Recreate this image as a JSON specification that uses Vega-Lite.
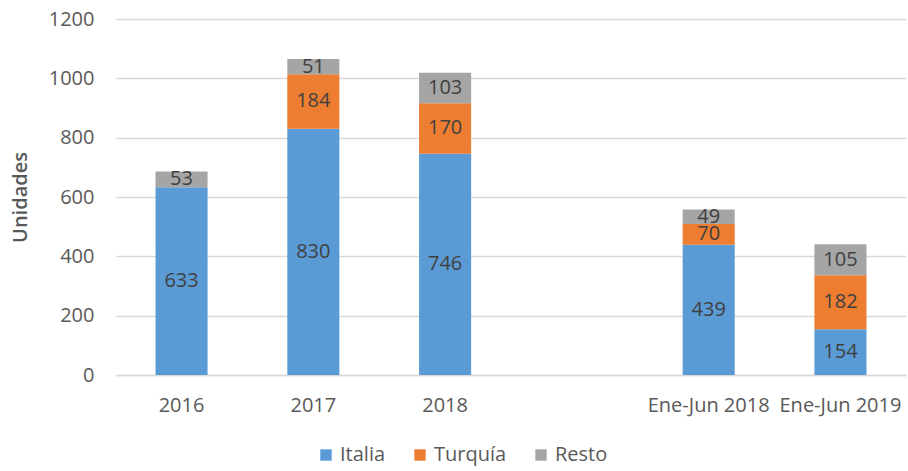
{
  "$schema": "https://vega.github.io/schema/vega-lite/v6.json",
  "width": 790,
  "height": 356,
  "autosize": {"type": "none"},
  "padding": {"left": 116, "top": 19, "right": 2, "bottom": 96},
  "background": "white",
  "config": {
    "font": "Open Sans",
    "view": {"stroke": null},
    "axis": {"labelColor": "#595959", "titleColor": "#595959", "labelFont": "Open Sans", "titleFont": "Open Sans"}
  },
  "data": {
    "values": [
      {"periodo": "2016", "serie": "Italia", "orden": 1, "valor": 633},
      {"periodo": "2016", "serie": "Turquía", "orden": 2, "valor": 0},
      {"periodo": "2016", "serie": "Resto", "orden": 3, "valor": 53},
      {"periodo": "2017", "serie": "Italia", "orden": 1, "valor": 830},
      {"periodo": "2017", "serie": "Turquía", "orden": 2, "valor": 184},
      {"periodo": "2017", "serie": "Resto", "orden": 3, "valor": 51},
      {"periodo": "2018", "serie": "Italia", "orden": 1, "valor": 746},
      {"periodo": "2018", "serie": "Turquía", "orden": 2, "valor": 170},
      {"periodo": "2018", "serie": "Resto", "orden": 3, "valor": 103},
      {"periodo": "Ene-Jun 2018", "serie": "Italia", "orden": 1, "valor": 439},
      {"periodo": "Ene-Jun 2018", "serie": "Turquía", "orden": 2, "valor": 70},
      {"periodo": "Ene-Jun 2018", "serie": "Resto", "orden": 3, "valor": 49},
      {"periodo": "Ene-Jun 2019", "serie": "Italia", "orden": 1, "valor": 154},
      {"periodo": "Ene-Jun 2019", "serie": "Turquía", "orden": 2, "valor": 182},
      {"periodo": "Ene-Jun 2019", "serie": "Resto", "orden": 3, "valor": 105}
    ]
  },
  "transform": [
    {"stack": "valor", "groupby": ["periodo"], "sort": [{"field": "orden", "order": "ascending"}], "as": ["v0", "v1"]},
    {"calculate": "(datum.v0 + datum.v1) / 2", "as": "vmid"}
  ],
  "encoding": {
    "x": {
      "field": "periodo",
      "type": "ordinal",
      "scale": {"domain": ["2016", "2017", "2018", " ", "Ene-Jun 2018", "Ene-Jun 2019"], "paddingInner": 0.605, "paddingOuter": 0.3},
      "axis": {"title": null, "labelAngle": 0, "labelFontSize": 20, "ticks": false, "domainColor": "#D9D9D9", "domainWidth": 1.5, "labelPadding": 20, "labelOverlap": false}
    }
  },
  "layer": [
    {
      "mark": {"type": "bar"},
      "encoding": {
        "y": {
          "field": "v0", "type": "quantitative",
          "scale": {"domain": [0, 1200]},
          "axis": {"title": "Unidades", "format": "d", "titleFontSize": 20, "titleFontWeight": 600, "titlePadding": 18, "values": [0, 200, 400, 600, 800, 1000, 1200], "labelFontSize": 20, "ticks": false, "domain": false, "gridColor": "#D9D9D9", "gridWidth": 1.5, "labelPadding": 22}
        },
        "y2": {"field": "v1"},
        "color": {
          "field": "serie", "type": "nominal",
          "scale": {"domain": ["Italia", "Turquía", "Resto"], "range": ["#5B9BD5", "#ED7D31", "#A5A5A5"]},
          "legend": {"title": null, "orient": "none", "legendX": 200, "legendY": 426, "direction": "horizontal", "symbolType": "square", "symbolSize": 130, "symbolStrokeWidth": 0, "labelFontSize": 20, "labelColor": "#595959", "labelFont": "Open Sans", "columnPadding": 24}
        },
        "order": {"field": "orden"}
      }
    },
    {
      "transform": [{"filter": "datum.valor > 0"}],
      "mark": {"type": "text", "fontSize": 20, "color": "#404040", "baseline": "middle", "align": "center"},
      "encoding": {
        "y": {"field": "vmid", "type": "quantitative"},
        "text": {"field": "valor", "type": "quantitative"}
      }
    }
  ]
}
